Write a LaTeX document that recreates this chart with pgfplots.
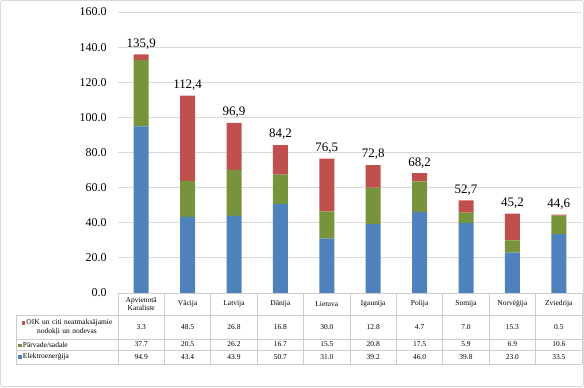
\documentclass[border=0pt]{standalone}
\usepackage{pgfplots}
\pgfplotsset{compat=1.18}
\usepackage{pgfplotstable}
\usepackage{fontspec}
\setmainfont{Liberation Serif}
\definecolor{cBlue}{RGB}{79,129,189}
\definecolor{cGreen}{RGB}{119,147,60}
\definecolor{cRed}{RGB}{192,80,77}
\definecolor{cGrid}{RGB}{217,217,217}
\definecolor{cTab}{RGB}{205,205,205}
\pgfplotsset{/pgf/number format/assume math mode=true}
\pgfplotstableread{
x elec parv oik total
0 94.9 37.7 3.3 135.9
1 43.4 20.5 48.5 112.4
2 43.9 26.2 26.8 96.9
3 50.7 16.7 16.8 84.2
4 31.0 15.5 30.0 76.5
5 39.2 20.8 12.8 72.8
6 46.0 17.5 4.7 68.2
7 39.8 5.9 7.0 52.7
8 23.0 6.9 15.3 45.2
9 33.5 10.6 0.5 44.6
}\data
\newcommand{\tabfont}{\fontsize{7.5}{8.5}\selectfont}
\newcommand{\sq}[1]{\textcolor{#1}{\rule{3.5bp}{3.5bp}}\,}
\begin{document}
\begin{tikzpicture}[x=1bp,y=1bp]
\useasboundingbox (0,0) rectangle (584,387);
\begin{axis}[
  at={(118bp,94bp)}, anchor=south west,
  scale only axis, width=464bp, height=281bp,
  xmin=-0.5, xmax=9.5, ymin=0, ymax=160,
  ybar stacked, bar width=15bp,
  axis line style={draw=none},
  tick style={draw=none},
  ymajorgrids, grid style={cGrid, line width=0.8bp},
  ytick={0,20,...,160},
  xtick={0,...,9},
  xticklabels={{Apvienotā\\Karaliste},Vācija,Latvija,Dānija,Lietuva,Igaunija,Polija,Somija,Norvēģija,Zviedrija},
  xticklabel style={font=\tabfont, align=center, anchor=center, yshift=-11bp},
  yticklabel style={font=\fontsize{12}{14}\selectfont, xshift=-8bp},
  yticklabel style={/pgf/number format/fixed, /pgf/number format/fixed zerofill, /pgf/number format/precision=1},
  major tick length=0,
  clip=false,
]
\addplot[fill=cBlue, draw=none] table[x=x, y=elec] {\data};
\addplot[fill=cGreen, draw=none] table[x=x, y=parv] {\data};
\addplot[fill=cRed, draw=none] table[x=x, y=oik] {\data};
\end{axis}
\begin{axis}[
  at={(118bp,94bp)}, anchor=south west,
  scale only axis, width=464bp, height=281bp,
  xmin=-0.5, xmax=9.5, ymin=0, ymax=160,
  hide axis, clip=false,
]
\addplot[draw=none, mark=none,
  nodes near coords={\pgfmathprintnumber[fixed,fixed zerofill,precision=1,use comma]{\pgfplotspointmeta}},
  every node near coord/.append style={font=\fontsize{13}{15}\selectfont, black, anchor=south, inner sep=2bp, yshift=3bp}]
  table[x=x, y=total] {\data};
\end{axis}
\begin{axis}[
  at={(118bp,23bp)}, anchor=south west,
  scale only axis, width=464bp, height=71bp,
  xmin=-0.5, xmax=9.5, ymin=0, ymax=71,
  hide axis, clip=false,
  nodes near coords={\pgfmathprintnumber[fixed,fixed zerofill,precision=1]{\pgfplotspointmeta}},
  every node near coord/.append style={font=\tabfont, black, anchor=center},
  point meta=explicit,
]
\addplot[draw=none, mark=none] table[x=x, y expr=37, meta=oik] {\data};
\addplot[draw=none, mark=none] table[x=x, y expr=19.5, meta=parv] {\data};
\addplot[draw=none, mark=none] table[x=x, y expr=7, meta=elec] {\data};
\end{axis}
% table grid
\begin{scope}[cTab, line width=0.8bp]
\draw (118,94) -- (582,94);
\draw (16,72) -- (582,72);
\draw (16,48) -- (582,48);
\draw (16,37) -- (582,37);
\draw (16,23) -- (582,23);
\draw (16,23) -- (16,72);
\foreach \k in {0,...,10} { \draw ({118+46.4*\k},23) -- ({118+46.4*\k},94); }
\end{scope}
\node[font=\tabfont, align=center, text width=100bp] at (67,60) {\sq{cRed}OIK un citi neatmaksājamie\\nodokļi un nodevas};
\node[font=\tabfont, anchor=west, inner sep=0] at (18,42.5) {\sq{cGreen}Pārvade/sadale};
\node[font=\tabfont, anchor=west, inner sep=0] at (18,30) {\sq{cBlue}Elektroenerģija};
\draw[cGrid, line width=1bp, rounded corners=2bp] (0.5,0.5) rectangle (583.5,386.5);
\end{tikzpicture}
\end{document}
